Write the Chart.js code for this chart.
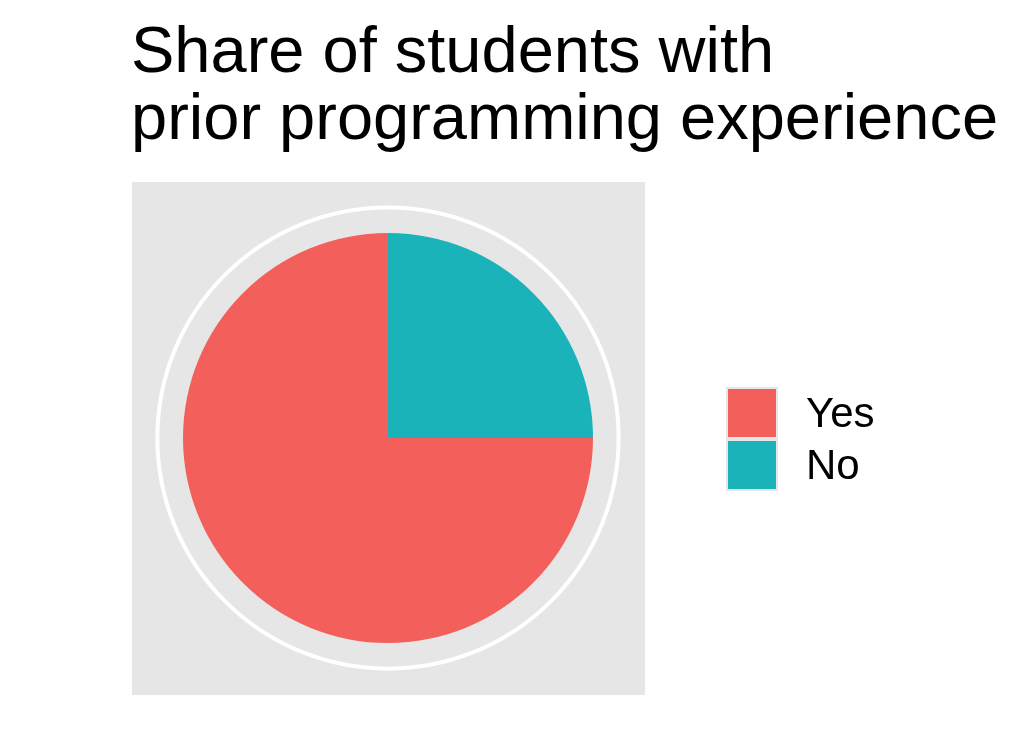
<!DOCTYPE html>
<html>
<head>
<meta charset="utf-8">
<script src="https://cdn.jsdelivr.net/npm/chart.js@4/dist/chart.umd.min.js"></script>
<style>
  html, body { margin: 0; padding: 0; background: #ffffff; }
  #wrap { width: 1036px; height: 756px; position: relative; }
</style>
</head>
<body>
<div id="wrap"><canvas id="c" width="1036" height="756"></canvas></div>
<script>
const categories = ['Yes', 'No'];
const shares = [75, 25];
const sliceColors = ['#F35F5B', '#19B3B9'];
const titleLines = ['Share of students with', 'prior programming experience'];

const FONT = '"Liberation Sans", Arial, sans-serif';

const decorPlugin = {
  id: 'decor',
  beforeDraw(chart) {
    const ctx = chart.ctx;
    const meta = chart.getDatasetMeta(0);
    const arc = meta.data[0];
    const cx = arc.x, cy = arc.y, r = arc.outerRadius;
    ctx.save();
    ctx.fillStyle = '#ffffff';
    ctx.fillRect(0, 0, chart.width, chart.height);
    const half = r * 1.25;
    ctx.fillStyle = '#E6E6E6';
    ctx.fillRect(Math.round(cx - half), Math.round(cy - half), Math.round(2 * half), Math.round(2 * half));
    ctx.strokeStyle = '#ffffff';
    ctx.lineWidth = 4;
    ctx.beginPath();
    ctx.arc(cx, cy, r * 1.125, 0, Math.PI * 2);
    ctx.stroke();
    ctx.restore();
  },
  afterDraw(chart) {
    const ctx = chart.ctx;
    ctx.save();
    ctx.fillStyle = '#000000';
    ctx.textBaseline = 'alphabetic';
    ctx.textAlign = 'left';
    ctx.font = '65px ' + FONT;
    ctx.fillText(titleLines[0], 131, 72);
    ctx.fillText(titleLines[1], 131, 139);
    // legend
    const kx = 726, ky = 387, ks = 52;
    categories.forEach((cat, i) => {
      ctx.fillStyle = '#E6E6E6';
      ctx.fillRect(kx, ky + i * ks, ks, ks);
      ctx.fillStyle = sliceColors[i];
      ctx.fillRect(kx + 2, ky + i * ks + 2, ks - 4, ks - 4);
      ctx.fillStyle = '#000000';
      ctx.font = '42px ' + FONT;
      ctx.fillText(cat, 806, ky + i * ks + 40);
    });
    ctx.restore();
  }
};

new Chart(document.getElementById('c'), {
  type: 'pie',
  data: {
    labels: categories,
    datasets: [{
      data: shares,
      backgroundColor: sliceColors,
      borderWidth: 0,
      hoverOffset: 0
    }]
  },
  options: {
    responsive: false,
    animation: false,
    rotation: 90,
    layout: { padding: { left: 183, right: 443, top: 233, bottom: 113 } },
    plugins: {
      legend: { display: false },
      title: { display: false },
      tooltip: { enabled: false }
    }
  },
  plugins: [decorPlugin]
});
</script>
</body>
</html>
